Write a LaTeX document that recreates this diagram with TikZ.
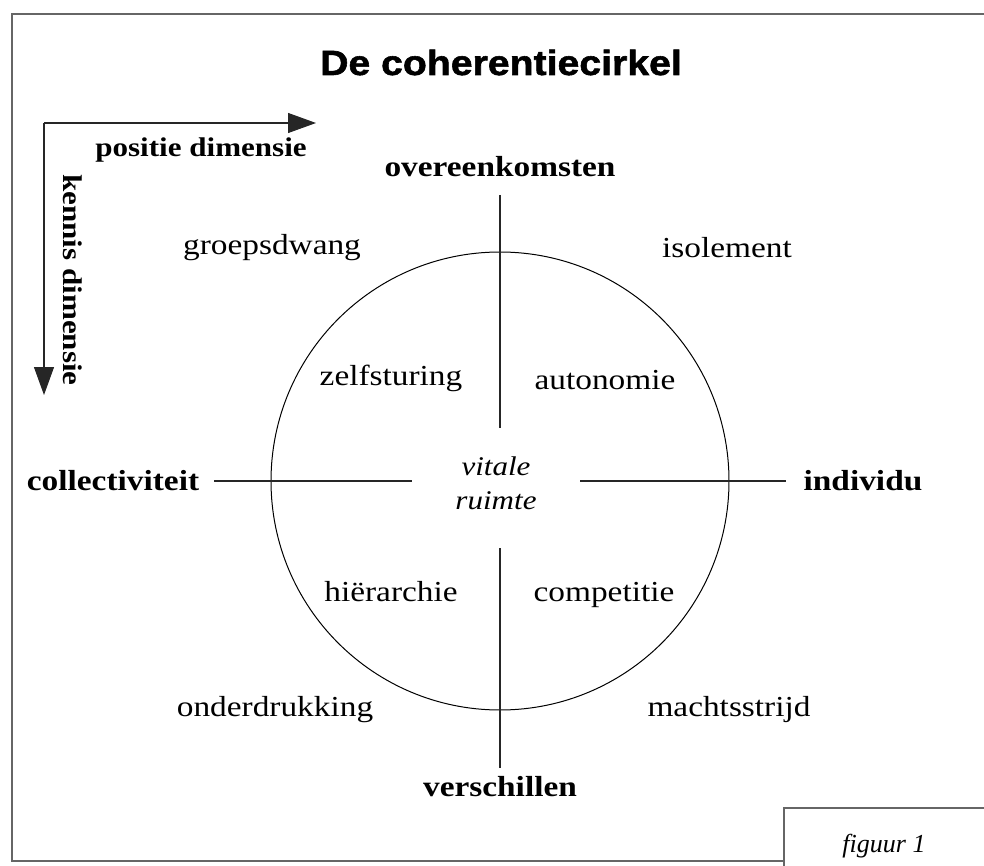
\documentclass[tikz,border=0pt]{standalone}
\usepackage{fontspec}
\setmainfont{Liberation Serif}[FakeStretch=1.15]
\newfontfamily\titlefont{Liberation Sans}[FakeStretch=1.12,BoldFeatures={FakeBold=1.6}]
\newfontfamily\figfont{Liberation Serif}
\usetikzlibrary{arrows.meta}
\begin{document}
\begin{tikzpicture}[x=1pt,y=-1pt,
  lab/.style={inner sep=0pt,font=\fontsize{29}{32}\selectfont},
  blab/.style={inner sep=0pt,font=\fontsize{29}{32}\selectfont\bfseries},
  dimlab/.style={inner sep=0pt,font=\fontsize{27}{30}\selectfont\bfseries},
  frameline/.style={draw=black!60,line width=1.6pt},
  crossline/.style={draw=black!85,line width=1.1pt},
  dimarrow/.style={draw=black!85,line width=1.1pt,-{Triangle[length=28pt,width=20pt]}}]
\useasboundingbox (0,0) rectangle (984,866);
% frame
\draw[frameline] (984,14) -- (12,14) -- (12,861) -- (784,861);
\draw[draw=black!60,line width=1.2pt] (784,866) -- (784,808) -- (984,808);
\node[inner sep=0pt,anchor=base,font=\fontsize{26}{28}\selectfont\figfont\itshape] (fig) at (884,852) {figuur 1};
% title
\node[inner sep=0pt,anchor=base,font=\fontsize{35}{38}\selectfont\titlefont\bfseries] (title) at (501,75) {De coherentiecirkel};
% dimension arrows
\coordinate (corner) at (44,123);
\coordinate (harr) at (316,123);
\coordinate (varr) at (44,395);
\draw[dimarrow] (corner) -- (harr);
\draw[dimarrow] (corner) -- (varr);
\node[dimlab] (pos) at (201,150) {positie dimensie};
\node[dimlab,rotate=-90] (ken) at (73,280) {kennis dimensie};
% circle
\node[draw=black,line width=1pt,circle,minimum size=458pt,inner sep=0pt] (circ) at (500,481) {};
% cross lines
\coordinate (vt1) at (500,195); \coordinate (vt2) at (500,428);
\coordinate (vb1) at (500,548); \coordinate (vb2) at (500,768);
\coordinate (hl1) at (214,481); \coordinate (hl2) at (412,481);
\coordinate (hr1) at (580,481); \coordinate (hr2) at (786,481);
\draw[crossline] (vt1) -- (vt2);
\draw[crossline] (vb1) -- (vb2);
\draw[crossline] (hl1) -- (hl2);
\draw[crossline] (hr1) -- (hr2);
% axis labels
\node[blab] (over) at (500,167) {overeenkomsten};
\node[blab,anchor=base] (verschil) at (500,796) {verschillen};
\node[blab] (coll) at (113,481) {collectiviteit};
\node[blab] (indiv) at (863,481) {individu};
% quadrant labels
\node[lab] (groep) at (272,248) {groepsdwang};
\node[lab] (isol) at (727,248) {isolement};
\node[lab] (zelf) at (391,378) {zelfsturing};
\node[lab] (auto) at (605,380) {autonomie};
\node[lab] (hier) at (391,592) {hiërarchie};
\node[lab] (comp) at (604,595) {competitie};
\node[lab] (onder) at (275,710) {onderdrukking};
\node[lab] (macht) at (729,710) {machtsstrijd};
% centre
\node[inner sep=0pt,align=center,font=\fontsize{27}{34}\selectfont\itshape] (vital) at (496,483) {vitale\\ruimte};
\end{tikzpicture}
\end{document}
